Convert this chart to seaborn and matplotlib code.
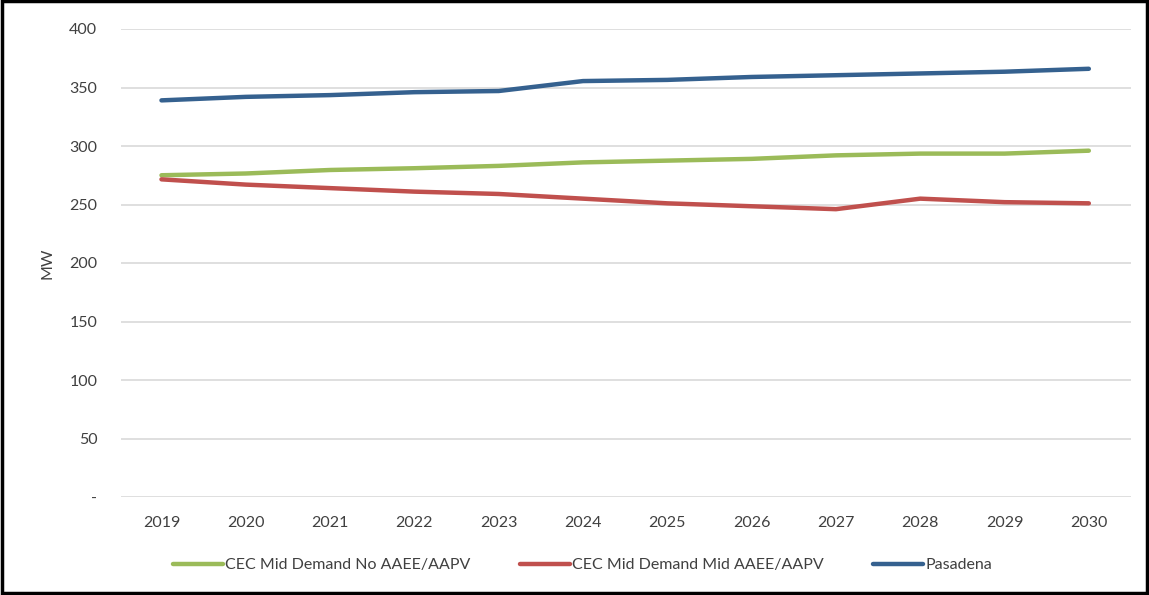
import numpy as np
import pandas as pd
import matplotlib.pyplot as plt
import seaborn as sns
from matplotlib.patches import Rectangle

# values (MW)
years = ['2019', '2020', '2021', '2022', '2023', '2024', '2025', '2026', '2027', '2028', '2029', '2030']
no_aaee = [275, 276.5, 279.5, 281, 283, 286, 287.5, 289, 292, 293.5, 293.5, 296]
mid_aaee = [271.5, 267, 264, 261, 259, 255, 251, 248.5, 246, 255, 252, 251]
pasadena = [339, 342, 343.5, 346, 347, 355.5, 356.5, 359, 360.5, 362, 363.5, 366]

series_names = ['CEC Mid Demand No AAEE/AAPV', 'CEC Mid Demand Mid AAEE/AAPV', 'Pasadena']
colors = ['#9BBB59', '#C0504D', '#35618F']

df = pd.DataFrame({
    'year': years * 3,
    'MW': no_aaee + mid_aaee + pasadena,
    'series': np.repeat(series_names, len(years)),
})

sns.set_style('white')
plt.rcParams['font.family'] = ['Lato', 'DejaVu Sans']

fig = plt.figure(figsize=(11.49, 5.95), dpi=100)
ax = fig.add_axes([121 / 1149, 1 - 497 / 595, 1010 / 1149, 468 / 595])

sns.lineplot(data=df, x='year', y='MW', hue='series', hue_order=series_names,
             palette=colors, linewidth=3.2, sort=False, ax=ax, legend=True)

ax.set_ylim(0, 400)
ax.set_xlim(-0.48, 11.5)
yticks = list(range(0, 401, 50))
ax.set_yticks(yticks)
ax.set_yticklabels(['-'] + [str(v) for v in yticks[1:]])
ax.yaxis.grid(True, color='#D9D9D9', linewidth=1.2)
ax.set_axisbelow(True)
for s in ax.spines.values():
    s.set_visible(False)
ax.tick_params(axis='both', length=0, labelsize=11.5, labelcolor='#404040')
ax.tick_params(axis='x', pad=14)
ax.tick_params(axis='y', pad=17)
ax.set_xlabel('')
ax.set_ylabel('MW', fontsize=11.5, color='#404040')
ax.yaxis.set_label_coords(-0.066, 0.5)

leg = ax.legend(loc='upper center', bbox_to_anchor=(0.457, -0.1), ncol=3, frameon=False,
                fontsize=11.5, handlelength=3.1, handletextpad=0.15, columnspacing=3.1)
for t in leg.get_texts():
    t.set_color('#404040')
for h in leg.get_lines():
    h.set_linewidth(3.2)

# black border round the figure
fig.patches.append(Rectangle((0.002, 0.004), 0.996, 0.994, transform=fig.transFigure,
                             fill=False, edgecolor='black', linewidth=2.5))

fig.savefig('out.png', dpi=100)
